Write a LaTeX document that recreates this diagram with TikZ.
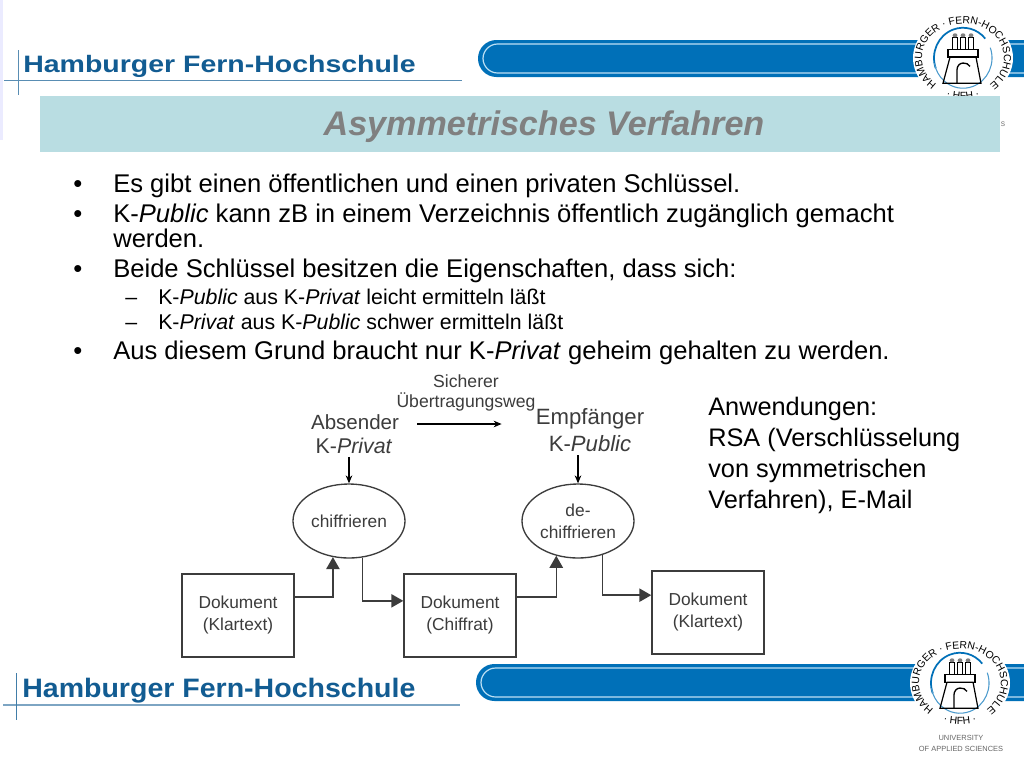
\documentclass[tikz,border=0pt]{standalone}
\usepackage{fontspec}
\setmainfont{Liberation Sans}
\usetikzlibrary{arrows.meta}
\usetikzlibrary{shapes.geometric}
\usetikzlibrary{decorations.text}
\definecolor{hfhblue}{HTML}{0070B8}
\definecolor{hfhlight}{HTML}{BDE0F4}
\definecolor{hfhtext}{HTML}{125C92}
\definecolor{barcolor}{HTML}{B9DDE2}
\definecolor{inkgray}{HTML}{3C3C3C}
\tikzset{
	headtext/.style={anchor=base west,inner sep=0pt,text=hfhtext,font=\fontsize{17.8pt}{20pt}\selectfont\bfseries},
	bodytext/.style={anchor=base west,inner sep=0pt,font=\fontsize{19.2pt}{20pt}\selectfont},
	subtext/.style={anchor=base west,inner sep=0pt,font=\fontsize{16pt}{16pt}\selectfont},
	dokbox/.style={draw=inkgray,line width=1.1pt,minimum width=84pt,minimum height=62pt,inner sep=0pt,align=center,text=inkgray,font=\fontsize{13pt}{16.5pt}\selectfont},
	verfellipse/.style={draw=inkgray,ellipse,line width=1pt,minimum width=84pt,minimum height=55.5pt,inner sep=0pt,align=center,text=inkgray,font=\fontsize{13pt}{16.5pt}\selectfont},
	toplabel/.style={inner sep=0pt,align=center,text=inkgray,font=\fontsize{16pt}{18.4pt}\selectfont},
	weglabel/.style={inner sep=0pt,align=center,text=inkgray,font=\fontsize{13.2pt}{15pt}\selectfont},
	thinarrow/.style={draw=black,line width=.8pt,-{Stealth[length=6pt,width=5pt]}},
	bigarrow/.style={draw=inkgray,line width=1.1pt,-{Triangle[length=9pt,width=10pt]}},
	hfhlogo/.pic={
		\begin{scope}[x=.75pt,y=.63pt]
		\fill[white] (0,0) circle (50);
		\path[decorate,decoration={text along path,text align=center,text={|\fontsize{7.8pt}{9pt}\selectfont|HAMBURGER · FERN-HOCHSCHULE}}]
			(232:41) arc[start angle=232,end angle=-52,radius=41];
		\path[decorate,decoration={text along path,text align=center,text={|\fontsize{7.8pt}{9pt}\selectfont|· HFH ·}}]
			(240:49) arc[start angle=240,end angle=300,radius=49];
		\draw[hfhblue,line width=1.3pt] (200:29 and 36) arc[start angle=200,end angle=40,x radius=29,y radius=36];
		\draw[hfhblue!70,line width=.8pt] (20:29 and 36) arc[start angle=20,end angle=-170,x radius=29,y radius=36];
		% burg
		\draw[black,line width=.9pt] (-20,-30) -- (18,-30) -- (13,1) -- (-13,1) -- cycle;
		\draw[black,line width=1pt] (-15,1) rectangle (15,10);
		\draw[black,line width=1pt] (-6,-30) -- (-6,-14) to[out=90,in=180] (0,-6) to[out=0,in=120] (7,-10);
		\foreach \tx in {-8,0,8}{
			\draw[black,line width=.8pt] (\tx-2.5,10) rectangle (\tx+2.5,24);
			\fill[gray] (\tx,27) circle (2.4);
		}
		\end{scope}
	}
}
\begin{document}
\begin{tikzpicture}[x=.75pt,y=-.75pt]
	\useasboundingbox (0,0) rectangle (1024,768);
	\fill[white] (0,0) rectangle (1024,768);
	\fill[blue!8] (0,0) rectangle (3,140);
	
	% kopf
	\fill[hfhblue,rounded corners=13.8pt] (478,40) rectangle (1060,77);
	\draw[hfhlight,line width=.9pt,rounded corners=11pt] (483,44) rectangle (1060,73);
	\pic at (963,58) {hfhlogo};
	\node[anchor=center,inner sep=0pt,text=gray,font=\fontsize{6.5pt}{8pt}\selectfont] (restS) at (1003,124) {s};
	\node[headtext,xscale=1.2,transform shape] (headtop) at (23,72) {Hamburger Fern-Hochschule};
	\draw[hfhtext!70,line width=.6pt] (4,80) -- (462,80);
	\draw[hfhtext!70,line width=.6pt] (18,50) -- (18,95);
	
	% titel
	\fill[barcolor] (40,96) rectangle (1000,152);
	\node[anchor=base,inner sep=0pt,text=black!50,font=\fontsize{25.6pt}{28pt}\selectfont\bfseries\itshape] (titel) at (544,135) {Asymmetrisches Verfahren};
	
	% text
	\foreach \by/\bname in {192/a,222/b,277/c,359/d}
		\node[bodytext] (bullet\bname) at (73,\by) {•};
	\node[bodytext] (zeileA) at (113,192) {Es gibt einen öffentlichen und einen privaten Schlüssel.};
	\node[bodytext] (zeileB) at (113,222) {K-\textit{Public} kann zB in einem Verzeichnis öffentlich zugänglich gemacht};
	\node[bodytext] (zeileBb) at (113,247) {werden.};
	\node[bodytext] (zeileC) at (113,277) {Beide Schlüssel besitzen die Eigenschaften, dass sich:};
	\node[subtext] (dashA) at (125,304) {–};
	\node[subtext] (zeileCa) at (158,304) {K-\textit{Public} aus K-\textit{Privat} leicht ermitteln läßt};
	\node[subtext] (dashB) at (125,329) {–};
	\node[subtext] (zeileCb) at (158,329) {K-\textit{Privat} aus K-\textit{Public} schwer ermitteln läßt};
	\node[bodytext] (zeileD) at (113,359) {Aus diesem Grund braucht nur K-\textit{Privat} geheim gehalten zu werden.};
	\node[anchor=north west,inner sep=0pt,align=left,font=\fontsize{19pt}{23.25pt}\selectfont] (anwendungen) at (708,397) {Anwendungen:\\RSA (Verschlüsselung\\von symmetrischen\\Verfahren), E-Mail};
	
	% diagramm
	\node[weglabel] (sicherer) at (466,393) {Sicherer\\Übertragungsweg};
	\node[toplabel,font=\fontsize{15.4pt}{18.4pt}\selectfont] (absender) at (355,422) {Absender};
	\node[toplabel] (kprivat) at (354,446) {K-\textit{Privat}};
	\node[toplabel,font=\fontsize{16.6pt}{18.4pt}\selectfont] (empfaenger) at (590,419) {Empfänger};
	\node[toplabel,font=\fontsize{16.6pt}{18.4pt}\selectfont] (kpublic) at (590,444) {K-\textit{Public}};
	\node[verfellipse] (chiff) at (349,521) {chiffrieren};
	\node[verfellipse] (dechiff) at (578,521) {de-\\chiffrieren};
	\node[dokbox] (dokA) at (238,615.5) {Dokument\\(Klartext)};
	\node[dokbox] (dokB) at (460,615.5) {Dokument\\(Chiffrat)};
	\node[dokbox] (dokC) at (708,612.5) {Dokument\\(Klartext)};
	
	\draw[thinarrow,shorten <=13.5pt,shorten >=25.5pt] ([yshift=-1.5pt]absender.east) -- ([yshift=-1.5pt]empfaenger.west |- absender.east);
	\draw[thinarrow,shorten <=2pt] (kprivat.south -| chiff.north) -- (chiff.north);
	\draw[thinarrow,shorten <=2pt] (kpublic.south -| dechiff.north) -- (dechiff.north);
	\draw[bigarrow] ([yshift=14pt]dokA.east) -| (chiff.246);
	\draw[bigarrow] (chiff.290) |- ([yshift=11pt]dokB.west);
	\draw[bigarrow] ([yshift=14pt]dokB.east) -| (dechiff.238);
	\draw[bigarrow] (dechiff.306) |- ([yshift=13pt]dokC.west);
	
	% fuss
	\fill[hfhblue,rounded corners=13.8pt] (476,664) rectangle (1060,701);
	\draw[hfhlight,line width=.9pt,rounded corners=11pt] (481,668) rectangle (1060,697);
	\pic at (960,683) {hfhlogo};
	\node[inner sep=0pt,align=center,text=black!60,font=\fontsize{5.6pt}{8.2pt}\selectfont] (univ) at (961,743) {UNIVERSITY\\OF APPLIED SCIENCES};
	\node[headtext,font=\fontsize{20pt}{22pt}\selectfont\bfseries,xscale=1.07,transform shape] (headbottom) at (22,697) {Hamburger Fern-Hochschule};
	\draw[hfhtext!55,line width=1.1pt] (3,705) -- (460,705);
	\draw[hfhtext!80,line width=.6pt] (16.5,673) -- (16.5,720);
\end{tikzpicture}
\end{document}
